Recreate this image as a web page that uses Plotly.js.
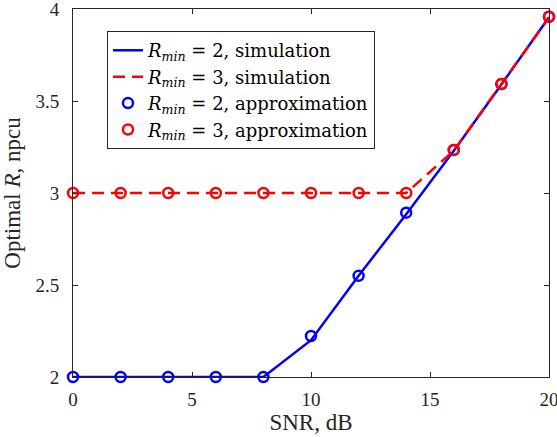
<!DOCTYPE html>
<html>
<head>
<meta charset="utf-8">
<script src="https://cdn.plot.ly/plotly-3.0.1.min.js"></script>
<style>html,body{margin:0;padding:0;background:#fff;}</style>
</head>
<body>
<div id="chart" style="width:557px;height:437px;"></div>
<script>
// SNR values (dB)
const snr = [0, 2, 4, 6, 8, 10, 12, 14, 16, 18, 20];
// Rmin = 2 simulation & approximation
const sim2 = [2, 2, 2, 2, 2, 2.2, 2.55, 2.885, 3.23, 3.59, 3.955];
const app2 = [2, 2, 2, 2, 2, 2.223, 2.55, 2.893, 3.234, 3.592, 3.958];
// Rmin = 3 simulation & approximation
const sim3 = [3, 3, 3, 3, 3, 3, 3, 3, 3.23, 3.59, 3.955];
const app3 = [3, 3, 3, 3, 3, 3, 3, 3, 3.234, 3.592, 3.958];
const xTicks = [0, 5, 10, 15, 20];
const yTicks = [2, 2.5, 3, 3.5, 4];
const yTickText = ['2', '2.5', '3', '3.5', '4'];

const font = 'Liberation Serif, DejaVu Serif, serif';
const legFont = 'DejaVu Serif, Liberation Serif, serif';
const lab = (r, t) => '<i>R</i><sub><i>min</i></sub> = ' + r + ', ' + t;

const traces = [
  {x: snr, y: sim2, mode: 'lines', name: lab(2, 'simulation'),
   line: {color: '#0000ff', width: 2.5}, cliponaxis: false},
  {x: snr, y: sim3, mode: 'lines', name: lab(3, 'simulation'),
   line: {color: '#ff0000', width: 2.5, dash: '12px,7px'}, cliponaxis: false},
  {x: snr, y: app2, mode: 'markers', name: lab(2, 'approximation'),
   marker: {symbol: 'circle-open', size: 10, color: '#0000ff', line: {width: 2.5}}, cliponaxis: false},
  {x: snr, y: app3, mode: 'markers', name: lab(3, 'approximation'),
   marker: {symbol: 'circle-open', size: 10, color: '#ff0000', line: {width: 2.5}}, cliponaxis: false}
];

const axisCommon = {
  showline: true, linecolor: '#262626', linewidth: 1, mirror: 'ticks',
  ticks: 'inside', ticklen: 5, tickcolor: '#262626', tickwidth: 1,
  showgrid: false, zeroline: false, ticklabeloverflow: 'allow',
  tickfont: {family: font, size: 19, color: '#262626'}
};

const layout = {
  width: 557, height: 437,
  margin: {l: 73, r: 8, t: 9, b: 60},
  paper_bgcolor: '#fff', plot_bgcolor: '#fff',
  font: {family: font, color: '#262626'},
  showlegend: true,
  legend: {
    x: 0.0714, y: 0.94, xanchor: 'left', yanchor: 'top',
    bgcolor: '#fff', bordercolor: '#262626', borderwidth: 1,
    font: {family: legFont, size: 18, color: '#000'},
    itemwidth: 30
  },
  xaxis: Object.assign({}, axisCommon, {
    range: [0, 20], tickvals: xTicks, ticktext: xTicks.map(String),
    ticklabelstandoff: 5,
    title: {text: 'SNR, dB', font: {family: font, size: 23, color: '#262626'}, standoff: 0}
  }),
  yaxis: Object.assign({}, axisCommon, {
    range: [2, 4], tickvals: yTicks, ticktext: yTickText,
    ticklabelstandoff: 9,
    title: {text: 'Optimal <i>R</i>, npcu', font: {family: font, size: 23, color: '#262626'}, standoff: 9}
  })
};

Plotly.newPlot('chart', traces, layout, {staticPlot: true, displayModeBar: false});
</script>
</body>
</html>
